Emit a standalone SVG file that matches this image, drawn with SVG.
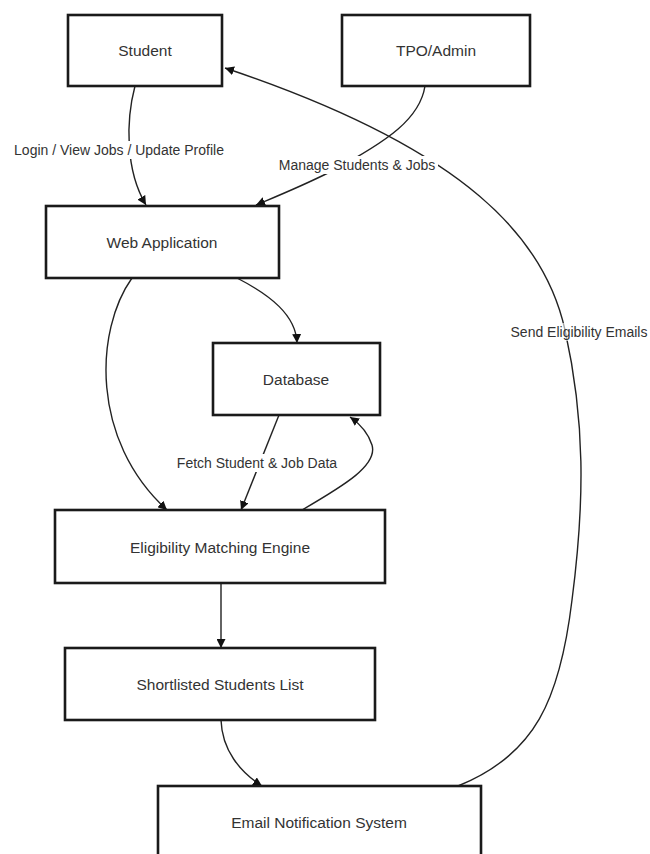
<svg xmlns="http://www.w3.org/2000/svg" width="650" height="854" viewBox="0 0 650 854">
<defs>
<style>
.node rect{fill:#fff;stroke:#1a1a1a;stroke-width:2.6}
.node text{font-family:"Liberation Sans",Arial,sans-serif;font-size:15.5px;fill:#333;text-anchor:middle;dominant-baseline:central}
.edge{fill:none;stroke:#222;stroke-width:1.4}
.lbl text{font-family:"Liberation Sans",Arial,sans-serif;font-size:14px;fill:#333;text-anchor:middle;dominant-baseline:central}
.lbl rect{fill:#fff}
</style>
<marker id="ah" viewBox="0 0 10 10" refX="10" refY="5" markerWidth="9" markerHeight="9" markerUnits="userSpaceOnUse" orient="auto">
<path d="M0,0 L10,5 L0,10 z" fill="#111"/>
</marker>
</defs>
<rect width="650" height="854" fill="#fff"/>
<g id="connectors">
<path class="edge" marker-end="url(#ah)" d="M135,86 C126,120 125,170 146,205"/>
<path class="edge" marker-end="url(#ah)" d="M425,86 C420,118 390,140 330,172 C300,187 275,197 256,205"/>
<path class="edge" marker-end="url(#ah)" d="M237,278 C270,295 296,315 297,343"/>
<path class="edge" marker-end="url(#ah)" d="M132,278 C95,330 90,440 167,510"/>
<path class="edge" marker-end="url(#ah)" d="M279,415 L241,510"/>
<path class="edge" marker-end="url(#ah)" d="M302,510 C345,485 378,465 372,445 C368,432 360,424 350,417"/>
<path class="edge" marker-end="url(#ah)" d="M221,583 L221,648"/>
<path class="edge" marker-end="url(#ah)" d="M221,720 C222,750 240,772 262,786"/>
<path class="edge" marker-end="url(#ah)" d="M458,786 C535,755 560,700 572,600 C585,500 585,420 565,330 C545,240 470,150 225,68"/>
<g class="lbl"><rect x="10" y="141" width="219" height="18"/><text x="119" y="150">Login / View Jobs / Update Profile</text></g>
<g class="lbl"><rect x="276" y="156" width="162" height="18"/><text x="357" y="165">Manage Students &amp; Jobs</text></g>
<g class="lbl"><rect x="174" y="454" width="166" height="18"/><text x="257" y="463">Fetch Student &amp; Job Data</text></g>
<g class="lbl"><rect x="509" y="323" width="141" height="18" opacity="0.6"/><text x="579" y="332">Send Eligibility Emails</text></g>
</g>
<g id="student" class="node"><rect x="68" y="15" width="154" height="71"/><text x="145" y="50">Student</text></g>
<g id="tpo" class="node"><rect x="342" y="15" width="188" height="71"/><text x="436" y="50">TPO/Admin</text></g>
<g id="webapp" class="node"><rect x="46" y="206" width="233" height="72"/><text x="162" y="242">Web Application</text></g>
<g id="database" class="node"><rect x="213" y="343" width="167" height="72"/><text x="296" y="379">Database</text></g>
<g id="engine" class="node"><rect x="55" y="510" width="330" height="73"/><text x="220" y="547">Eligibility Matching Engine</text></g>
<g id="shortlist" class="node"><rect x="65" y="648" width="310" height="72"/><text x="220" y="684">Shortlisted Students List</text></g>
<g id="email" class="node"><rect x="158" y="786" width="323" height="80"/><text x="319" y="822">Email Notification System</text></g>
</svg>
